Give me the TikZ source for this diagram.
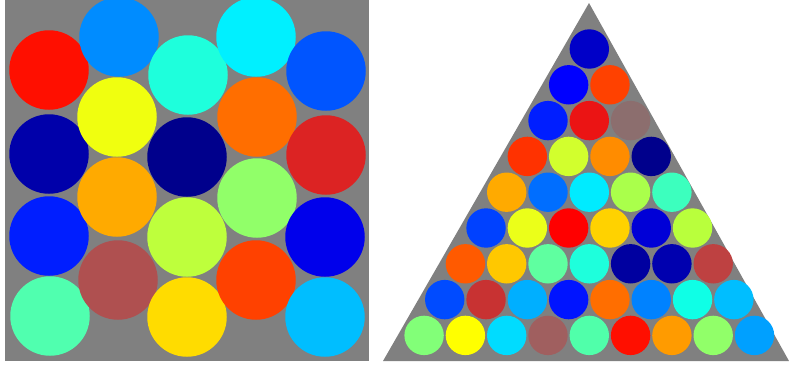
\documentclass[tikz,border=0pt]{standalone}
\usepackage{tikz}
\usepackage{xcolor}
\definecolor{boxgray}{RGB}{128,128,128}

\begin{document}
\begin{tikzpicture}[x=1pt, y=-1pt,
    bigball/.style={circle, inner sep=0pt, minimum size=79.5pt},
    smallball/.style={circle, inner sep=0pt, minimum size=39.4pt}]
  \useasboundingbox (0,0) rectangle (789,370);

  % square container
  \fill[boxgray] (5,0) rectangle (369,361);
  \begin{scope}
    \clip (5,0) rectangle (369,361);
    \foreach \cx/\cy/\rd/\gr/\bl [count=\i] in {
        49/70/255/15/0, 49/154/0/0/170, 49/236/0/30/255, 50/316/80/255/175,
        119/37/0/140/255, 117/117/240/255/15, 117/197/255/170/0, 118/280/175/80/80,
        188/75/30/255/220, 187/157/0/0/140, 187/237/190/255/60, 187/317/255/220/0,
        256/37/0/240/255, 257/117/255/110/0, 257/198/145/255/105, 256/280/255/65/0,
        326/71/0/85/255, 326/155/220/35/35, 325/237/0/0/235, 325/317/0/190/255}
      \node[bigball, fill={rgb,255:red,\rd;green,\gr;blue,\bl}] (sq-\i) at (\cx,\cy) {};
  \end{scope}

  % triangle container
  \fill[boxgray] (589,3) -- (789,361) -- (383,361) -- cycle;
  \foreach \row [count=\k] in {
      {0/0/200},
      {0/0/255, 255/65/0},
      {0/30/255, 235/20/20, 140/110/110},
      {255/50/0, 210/255/45, 255/140/0, 0/0/140},
      {255/170/0, 0/110/255, 0/235/255, 170/255/75, 60/255/190},
      {0/65/255, 235/255/25, 255/0/0, 255/210/0, 0/0/215, 185/255/60},
      {255/90/0, 255/200/0, 95/255/160, 30/255/220, 0/0/160, 0/0/175, 190/65/65},
      {0/75/255, 200/50/50, 0/175/255, 0/20/255, 255/110/0, 0/130/255, 15/255/230, 0/190/255},
      {130/255/120, 255/255/0, 0/220/255, 160/95/95, 80/255/170, 255/15/0, 255/155/0, 145/255/105, 0/160/255}}
    \foreach \rd/\gr/\bl [count=\j] in \row
      \node[smallball, fill={rgb,255:red,\rd;green,\gr;blue,\bl}] (tri-\k-\j)
        at ({589.3+(\j-(\k+1)/2)*41.3}, {49+(\k-1)*35.8}) {};
\end{tikzpicture}
\end{document}
